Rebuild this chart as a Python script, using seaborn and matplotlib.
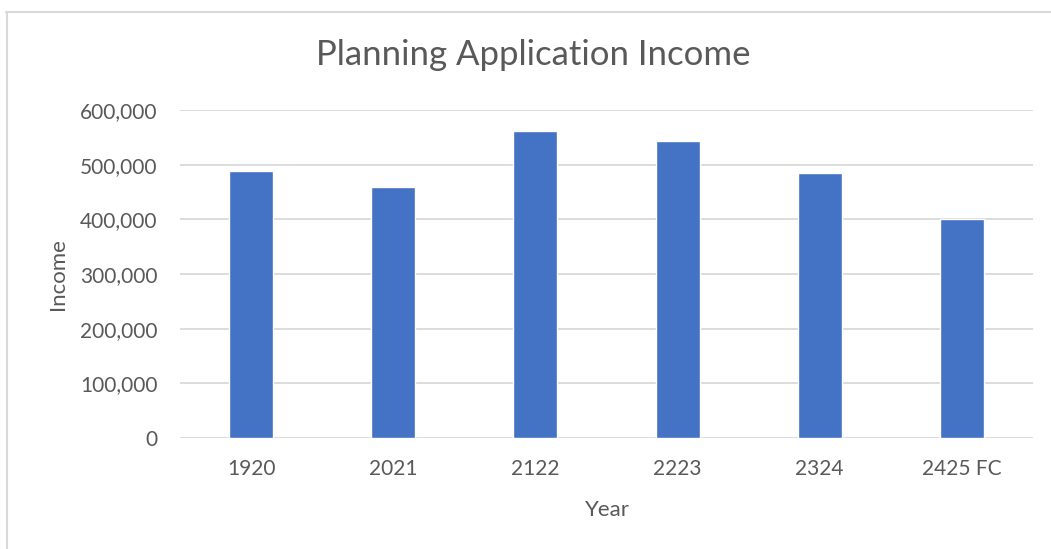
import matplotlib
matplotlib.use("Agg")
import matplotlib.pyplot as plt
import seaborn as sns
import pandas as pd
from matplotlib.lines import Line2D
from matplotlib.ticker import FuncFormatter

years = ["1920", "2021", "2122", "2223", "2324", "2425 FC"]
income = [488000, 459000, 562000, 543000, 484500, 400000]
yticks = [0, 100000, 200000, 300000, 400000, 500000, 600000]

df = pd.DataFrame({"Year": years, "Income": income})

sns.set_theme(style="white")
plt.rcParams['font.family'] = ['Lato', 'DejaVu Sans']

W, H = 1051, 549
fig = plt.figure(figsize=(W / 100, H / 100), dpi=100)
ax = fig.add_axes([180 / W, (H - 438) / H, (1033 - 180) / W, (438 - 110) / H])

sns.barplot(data=df, x="Year", y="Income", color="#4472C4", width=0.31,
            saturation=1, ax=ax, zorder=3)

ax.set_ylim(0, 600000)
ax.set_yticks(yticks)
ax.yaxis.set_major_formatter(FuncFormatter(lambda v, p: f"{int(v):,}"))
ax.grid(axis="y", color="#d9d9d9", linewidth=1.3, zorder=0)
ax.set_axisbelow(True)
for s in ax.spines.values():
    s.set_visible(False)
ax.tick_params(axis="both", length=0, labelsize=15, labelcolor="#595959")
ax.tick_params(axis="y", pad=16)
ax.tick_params(axis="x", pad=15)

ax.set_xlabel("Year", fontsize=16, color="#595959")
ax.set_ylabel("Income", fontsize=16, color="#595959")
ax.xaxis.set_label_coords(607 / W, (H - 510) / H, transform=fig.transFigure)
ax.xaxis.label.set_va("center")
ax.yaxis.set_label_coords(58 / W, (H - 274) / H, transform=fig.transFigure)
ax.yaxis.label.set_va("center")

fig.text(533 / W, 1 - 55 / H, "Planning Application Income", ha="center", va="center",
         fontsize=25, color="#595959")

# chart frame
fig.add_artist(Line2D([6 / W, 1.0], [1 - 11.5 / H, 1 - 11.5 / H], transform=fig.transFigure,
                      color="#d9d9d9", linewidth=1.5))
fig.add_artist(Line2D([7 / W, 7 / W], [0, 1 - 11.5 / H], transform=fig.transFigure,
                      color="#d9d9d9", linewidth=1.5))

fig.savefig("out.png", dpi=100, facecolor="white")
